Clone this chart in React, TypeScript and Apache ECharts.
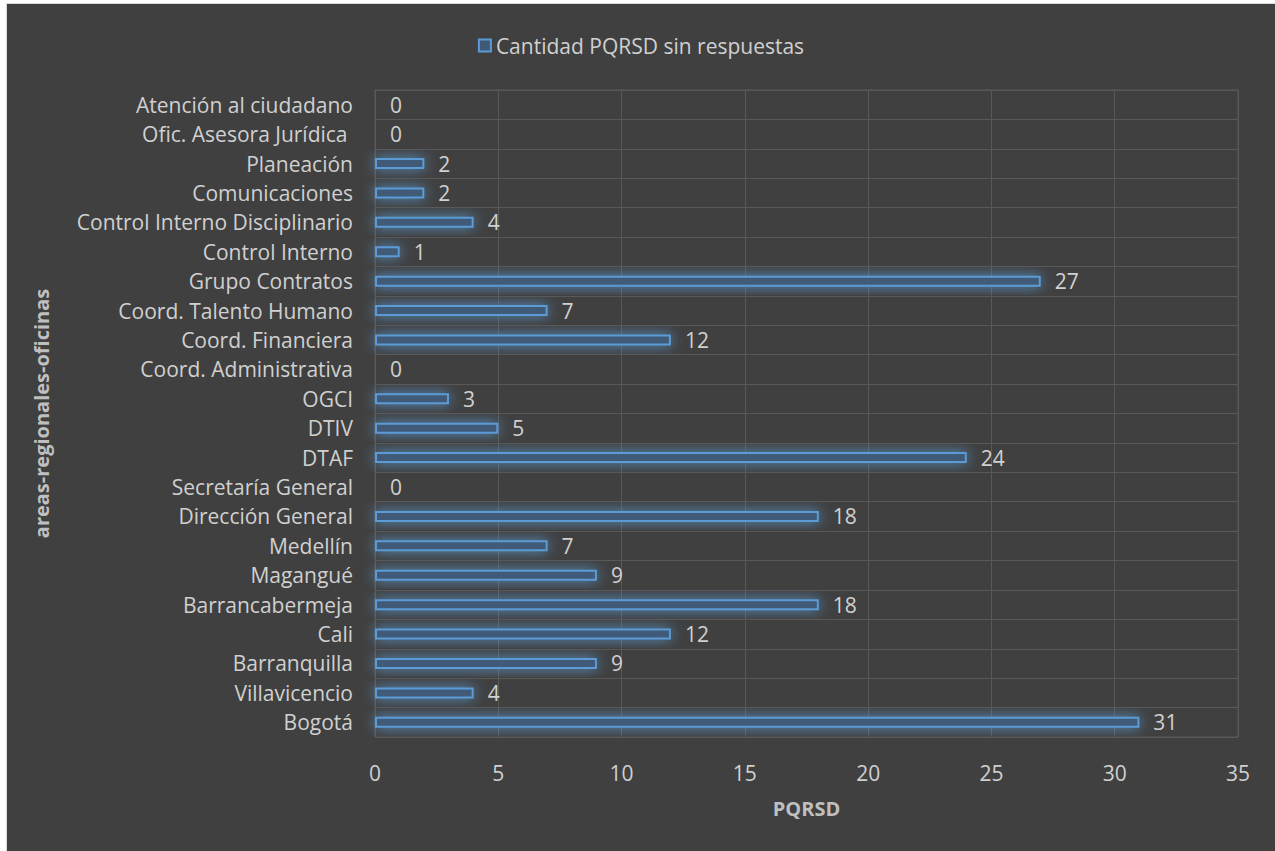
import React, { useEffect, useRef } from "react";
import * as echarts from "echarts";

const categories = [
  "Bogotá",
  "Villavicencio",
  "Barranquilla",
  "Cali",
  "Barrancabermeja",
  "Magangué",
  "Medellín",
  "Dirección General",
  "Secretaría General",
  "DTAF",
  "DTIV",
  "OGCI",
  "Coord. Administrativa",
  "Coord. Financiera",
  "Coord. Talento Humano",
  "Grupo Contratos",
  "Control Interno",
  "Control Interno Disciplinario",
  "Comunicaciones",
  "Planeación",
  "Ofic. Asesora Jurídica ",
  "Atención al ciudadano",
];
const values = [31, 4, 9, 12, 18, 9, 7, 18, 0, 24, 5, 3, 0, 12, 7, 27, 1, 4, 2, 2, 0, 0];
const seriesName = "Cantidad PQRSD sin respuestas";
const xTicks = { min: 0, max: 35, interval: 5 };

const FONT = "'Open Sans', 'Noto Sans', sans-serif";
const TEXT = "#d0d0d0";
const FS = 21;

export default function App() {
  const ref = useRef<HTMLDivElement>(null);
  useEffect(() => {
    document.body.style.margin = "0";
    document.body.style.overflow = "hidden";
    if (!ref.current) return;
    const chart = echarts.init(ref.current, undefined, { renderer: "svg" });
    chart.setOption({
      animation: false,
      backgroundColor: "#404040",
      textStyle: { fontFamily: FONT },
      legend: {
        data: [seriesName],
        top: 26,
        left: "center",
        icon: "rect",
        itemWidth: 12,
        itemHeight: 12,
        itemGap: 4,
        textStyle: { color: TEXT, fontSize: FS, fontFamily: FONT },
      },
      grid: {
        left: 368,
        top: 86,
        width: 863,
        height: 647,
        show: true,
        borderColor: "#595959",
        borderWidth: 1,
        containLabel: false,
      },
      xAxis: {
        type: "value",
        min: xTicks.min,
        max: xTicks.max,
        interval: xTicks.interval,
        name: "PQRSD",
        nameLocation: "middle",
        nameGap: 61,
        nameTextStyle: { color: "#bfbfbf", fontSize: FS - 1, fontWeight: "bold", fontFamily: FONT },
        axisLine: { show: false },
        axisTick: { show: false },
        axisLabel: { color: TEXT, fontSize: FS, margin: 25, fontFamily: FONT },
        splitLine: { show: true, lineStyle: { color: "#595959", width: 1 } },
      },
      yAxis: {
        type: "category",
        data: categories,
        name: "areas-regionales-oficinas",
        nameLocation: "middle",
        nameGap: 324,
        nameRotate: 90,
        nameTextStyle: { color: "#bfbfbf", fontSize: FS - 1, fontWeight: "bold", fontFamily: FONT },
        axisLine: { show: true, lineStyle: { color: "#595959" } },
        axisTick: { show: false },
        axisLabel: { color: TEXT, fontSize: FS, margin: 22, fontFamily: FONT },
        splitLine: { show: true, lineStyle: { color: "#595959", width: 1 } },
      },
      series: [
        {
          name: seriesName,
          type: "bar",
          data: values,
          barWidth: 11,
          itemStyle: {
            color: "#3f5a78",
            borderColor: "#5b9bd5",
            borderWidth: 2,
            shadowBlur: 14,
            shadowColor: "rgba(91,155,213,0.9)",
          },
          label: {
            show: true,
            position: "right",
            distance: 14,
            color: TEXT,
            fontSize: FS,
            fontFamily: FONT,
          },
        },
      ],
    });
    return () => chart.dispose();
  }, []);
  return (
    <div style={{ position: "absolute", left: 0, top: 0, width: 1275, height: 851, background: "#ffffff", overflow: "hidden" }}>
      <div
        style={{
          position: "absolute",
          left: 6,
          top: 3,
          borderLeft: "1px solid #d9d9d9",
          borderTop: "1px solid #d9d9d9",
        }}
      >
        <div ref={ref} style={{ width: 1268, height: 847 }} />
      </div>
    </div>
  );
}
